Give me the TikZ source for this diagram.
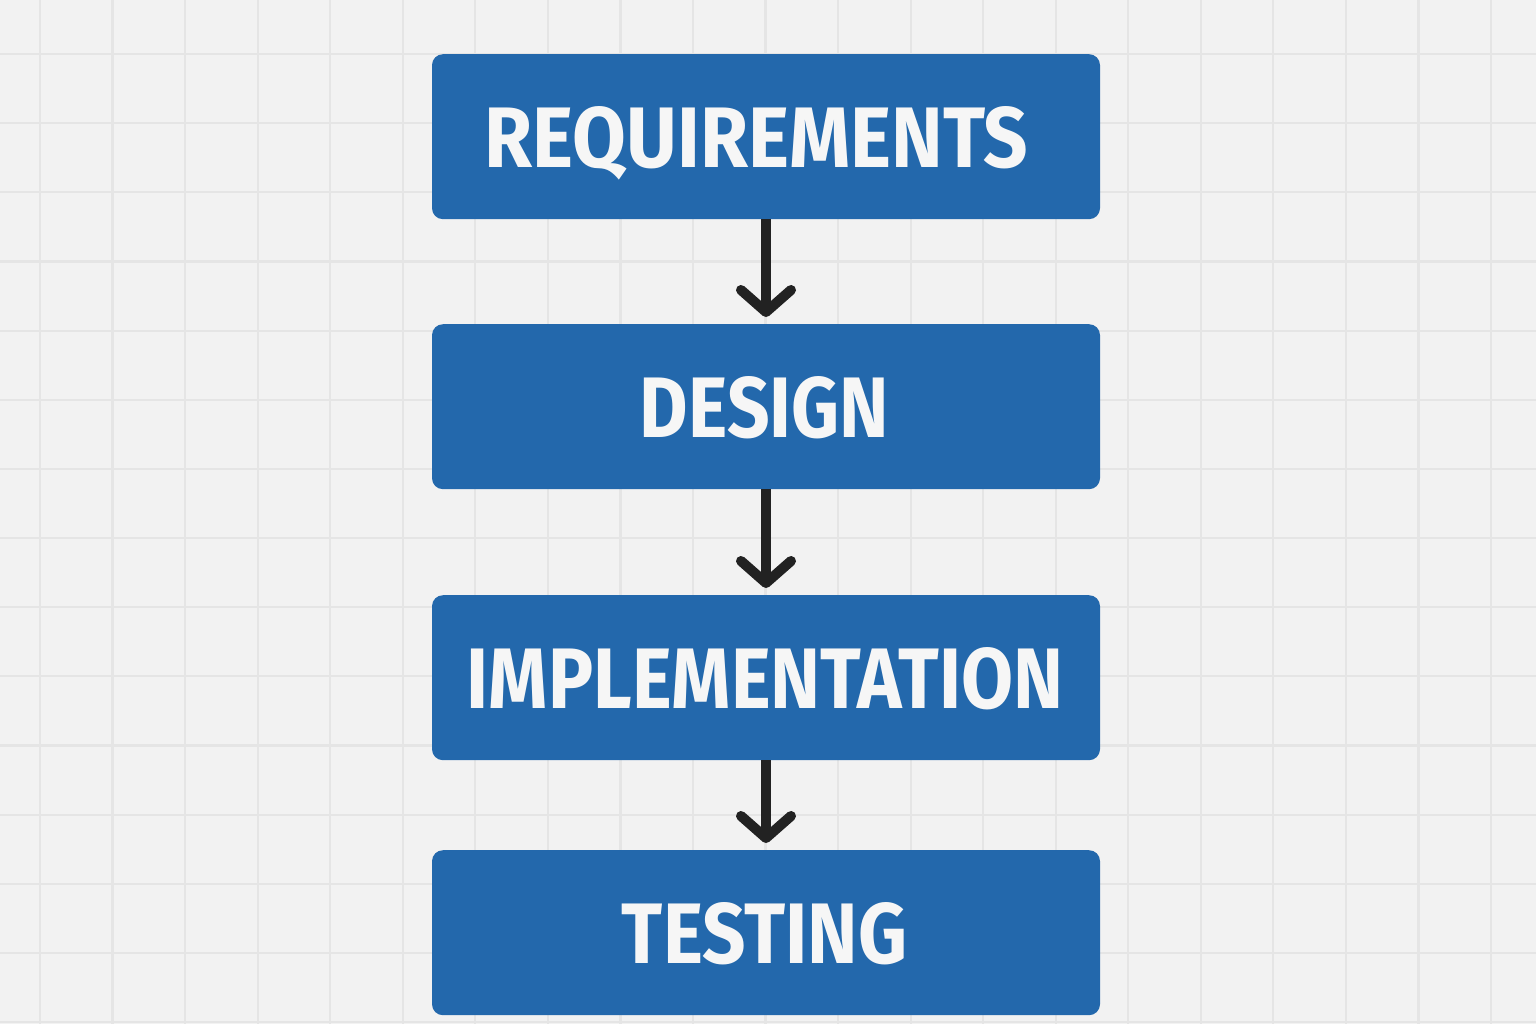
\documentclass[tikz,border=0pt]{standalone}
\usepackage{fontspec}
\setmainfont{Fira Sans}
\usetikzlibrary{arrows.meta}
\definecolor{bg}{RGB}{242,242,242}
\definecolor{gridc}{RGB}{229,229,229}
\definecolor{boxblue}{RGB}{35,104,172}
\definecolor{arrowc}{RGB}{34,34,34}
\definecolor{txtc}{RGB}{246,246,246}
\tikzset{
  stage/.style={fill=boxblue, rounded corners=11pt, minimum width=668pt,
    minimum height=165pt, inner sep=0pt, text=txtc, anchor=north},
  flow/.style={draw=arrowc, line width=10pt,
    -{Straight Barb[length=22pt,width=50pt,round]}},
  gridline/.style={draw=gridc, line width=2.2pt}
}
\newcommand{\stagelabel}[2]{\raisebox{0pt}[61pt][0pt]{\resizebox{#1pt}{61pt}{\bfseries #2}}}
\begin{document}
\begin{tikzpicture}[x=1pt,y=-1pt]
  \fill[bg] (0,0) rectangle (1536,1024);
  \useasboundingbox (0,0) rectangle (1536,1024);
  \foreach \i in {0,...,20}
    \draw[gridline] ({40+72.55*\i},0) -- ({40+72.55*\i},1024);
  \foreach \j in {0,...,14}
    \draw[gridline] (0,{54+69.15*\j}) -- (1536,{54+69.15*\j});

  \node[stage] (req) at (766,54) {\hspace*{-19pt}\stagelabel{543}{REQUIREMENTS}};
  \node[stage] (des) at (766,324) {\hspace*{-3pt}\stagelabel{249}{DESIGN}};
  \node[stage] (imp) at (766,595) {\hspace*{-2pt}\stagelabel{596}{IMPLEMENTATION}};
  \node[stage] (tst) at (766,850) {\hspace*{-3pt}\stagelabel{285}{TESTING}};

  \draw[flow] (req.south) -- ([yshift=7pt]des.north);
  \draw[flow] (des.south) -- ([yshift=7pt]imp.north);
  \draw[flow] (imp.south) -- ([yshift=7pt]tst.north);
\end{tikzpicture}
\end{document}
